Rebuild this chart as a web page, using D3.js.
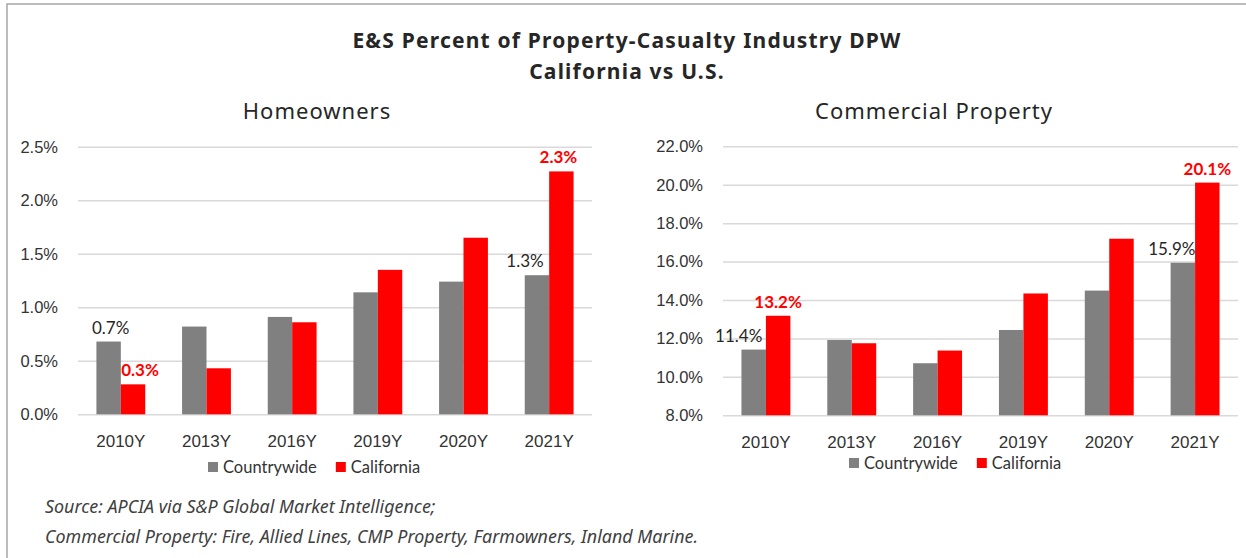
<!DOCTYPE html>
<html>
<head>
<meta charset="utf-8">
<script src="https://cdn.jsdelivr.net/npm/d3@7"></script>
<style>
  body { margin: 0; background: #fff; }
  svg { display: block; font-family: Lato, "Noto Sans", sans-serif; }
  .tick text { fill: #333; }
  .grid .tick text { font-size: 16.5px; }
  .xaxis .tick text { font-size: 17px; }
  .grid .tick line { stroke: #d9d9d9; stroke-width: 1.5; }
</style>
</head>
<body>
<div id="chart"></div>
<script>
// categories and series
const years = ['2010Y', '2013Y', '2016Y', '2019Y', '2020Y', '2021Y'];
const seriesNames = ['Countrywide', 'California'];

// Homeowners, % of DPW
const homeCountrywide = [0.68, 0.82, 0.91, 1.14, 1.24, 1.30];
const homeCalifornia = [0.28, 0.43, 0.86, 1.35, 1.65, 2.27];
const homeTicks = [0, 0.5, 1.0, 1.5, 2.0, 2.5];

// Commercial property, % of DPW
const commCountrywide = [11.42, 11.92, 10.71, 12.44, 14.49, 15.94];
const commCalifornia = [13.18, 11.75, 11.37, 14.34, 17.19, 20.11];
const commTicks = [8, 10, 12, 14, 16, 18, 20, 22];

const colors = ['#808080', '#ff0000'];

const svg = d3.select('#chart').append('svg')
    .attr('width', 1246)
    .attr('height', 558);

// frame (top + left edge only)
svg.append('path')
    .attr('d', 'M7,558V4H1246')
    .attr('fill', 'none')
    .attr('stroke', '#a6a6a6')
    .attr('stroke-width', 1.5);

const titles = ['E&S Percent of Property-Casualty Industry DPW', 'California vs U.S.'];
svg.selectAll('.title')
    .data(titles)
    .enter().append('text')
    .attr('x', 627)
    .attr('y', (d, i) => 48 + i * 30.5)
    .attr('text-anchor', 'middle')
    .style('font-family', '"Noto Sans", sans-serif')
    .style('font-weight', 700).style('font-size', '21px')
    .style('letter-spacing', '1.2px').style('fill', '#262626')
    .text(d => d);

function drawPanel(opts) {
    const g = svg.append('g');

    const x = d3.scaleBand()
        .domain(years)
        .range([opts.left, opts.right])
        .paddingInner(0.43)
        .paddingOuter(0.215);

    const xs = d3.scaleBand()
        .domain(seriesNames)
        .range([0, x.bandwidth()]);

    const y = d3.scaleLinear()
        .domain(opts.domain)
        .range([opts.bottom, opts.top]);

    // panel title
    g.append('text')
        .attr('x', opts.titleX).attr('y', 119)
        .attr('text-anchor', 'middle')
        .style('font-family', '"Noto Sans", sans-serif')
        .style('font-size', '22px').style('letter-spacing', '1px')
        .style('fill', '#262626')
        .text(opts.title);

    // gridlines + y labels
    g.append('g')
        .attr('class', 'grid')
        .attr('transform', `translate(${opts.left},0)`)
        .call(d3.axisLeft(y)
            .tickValues(opts.ticks)
            .tickSize(-(opts.right - opts.left))
            .tickPadding(20)
            .tickFormat(d => d3.format('.1f')(d) + '%'))
        .call(a => a.select('.domain').remove());

    // bars
    const rows = years.map((yr, i) => ({ year: yr, values: [opts.values[0][i], opts.values[1][i]] }));
    g.selectAll('.group')
        .data(rows)
        .enter().append('g')
        .attr('transform', d => `translate(${x(d.year)},0)`)
        .selectAll('rect')
        .data(d => d.values.map((v, s) => ({ v, s })))
        .enter().append('rect')
        .attr('x', d => xs(seriesNames[d.s]))
        .attr('y', d => y(d.v))
        .attr('width', xs.bandwidth())
        .attr('height', d => y(opts.domain[0]) - y(d.v))
        .attr('fill', d => colors[d.s]);

    // x axis labels
    g.append('g')
        .attr('class', 'xaxis')
        .attr('transform', `translate(0,${opts.bottom})`)
        .call(d3.axisBottom(x).tickSize(0).tickPadding(21))
        .call(a => a.select('.domain').remove());

    // data labels
    opts.labels.forEach(l => {
        const v = opts.values[l.s][l.i];
        g.append('text')
            .attr('x', x(years[l.i]) + xs(seriesNames[l.s]) + xs.bandwidth() / 2 + l.dx)
            .attr('y', y(v) - 8)
            .attr('text-anchor', 'middle')
            .style('font-size', '17px')
            .style('font-weight', l.s === 1 ? 700 : 400)
            .style('fill', l.s === 1 ? colors[1] : '#262626')
            .text(d3.format('.1f')(v) + '%');
    });

    // legend
    let lx = opts.legendX;
    seriesNames.forEach((name, s) => {
        g.append('rect')
            .attr('x', lx).attr('y', opts.legendY - 5)
            .attr('width', 10).attr('height', 10)
            .attr('fill', colors[s]);
        const t = g.append('text')
            .attr('x', lx + 15).attr('y', opts.legendY + 6)
            .style('font-size', '16.5px').style('fill', '#333')
            .text(name);
        lx += 15 + t.node().getComputedTextLength() + 19;
    });
}

drawPanel({
    title: 'Homeowners', titleX: 317,
    left: 78, right: 592, top: 146.8, bottom: 414.3,
    domain: [0, 2.5], ticks: homeTicks,
    values: [homeCountrywide, homeCalifornia],
    labels: [
        { s: 0, i: 0, dx: 2 }, { s: 1, i: 0, dx: 7 },
        { s: 0, i: 5, dx: -12 }, { s: 1, i: 5, dx: -3 }
    ],
    legendX: 208, legendY: 467
});

drawPanel({
    title: 'Commercial Property', titleX: 934,
    left: 723, right: 1238, top: 146.3, bottom: 415.3,
    domain: [8, 22], ticks: commTicks,
    values: [commCountrywide, commCalifornia],
    labels: [
        { s: 0, i: 0, dx: -15 }, { s: 1, i: 0, dx: 0 },
        { s: 0, i: 5, dx: -11 }, { s: 1, i: 5, dx: 0 }
    ],
    legendX: 849, legendY: 463
});

// source notes
const notes = ['Source: APCIA via S&P Global Market Intelligence;',
    'Commercial Property: Fire, Allied Lines, CMP Property, Farmowners, Inland Marine.'];
svg.selectAll('.note')
    .data(notes)
    .enter().append('text')
    .attr('x', 45)
    .attr('y', (d, i) => 513 + i * 30)
    .style('font-family', '"Noto Sans", sans-serif')
    .style('font-style', 'italic').style('font-size', '17.9px').style('fill', '#404040')
    .text(d => d);
</script>
</body>
</html>
